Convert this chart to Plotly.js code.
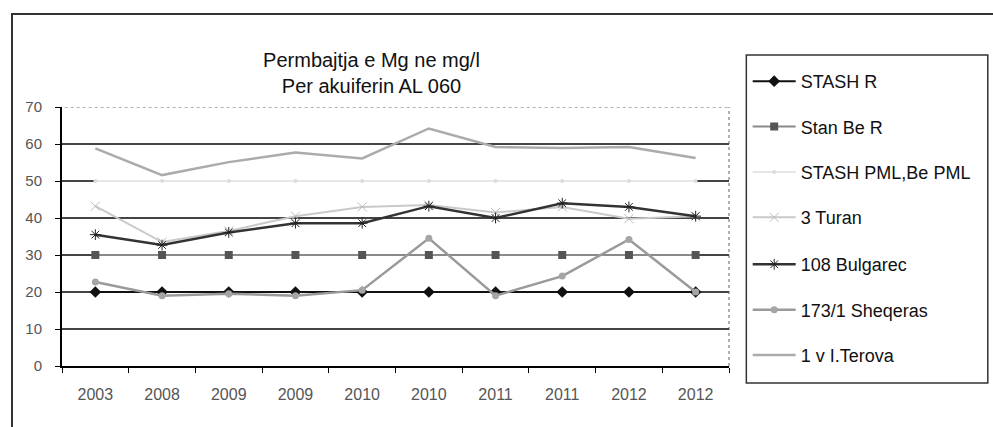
<!DOCTYPE html>
<html>
<head>
<meta charset="utf-8">
<script src="https://cdn.plot.ly/plotly-3.0.1.min.js"></script>
<style>
  body { margin: 0; background: #fff; }
  #chartDiv { width: 993px; height: 427px; position: relative; }
  #frame {
    position: absolute; left: 11px; top: 13px; width: 1000px; height: 430px;
    border-left: 2px solid #333; border-top: 2px solid #333; pointer-events: none;
  }
</style>
</head>
<body>
<div id="chartDiv"></div>
<div id="frame"></div>
<script>
  const years = ["2003", "2008", "2009", "2009", "2010", "2010", "2011", "2011", "2012", "2012"];
  const xIdx = [0, 1, 2, 3, 4, 5, 6, 7, 8, 9];

  const stashR = [20, 20, 20, 20, 20, 20, 20, 20, 20, 20];
  const stanBeR = [30, 30, 30, 30, 30, 30, 30, 30, 30, 30];
  const stashPml = [50, 50, 50, 50, 50, 50, 50, 50, 50, 50];
  const turan = [43.2, 33.5, 36.5, 40.5, 43, 43.5, 41.5, 43, 39.8, 40.5];
  const bulgarec = [35.5, 32.7, 36.1, 38.6, 38.6, 43.2, 40, 44, 43, 40.5];
  const sheqeras = [22.7, 19, 19.5, 19, 20.5, 34.5, 19, 24.3, 34.2, 20];
  const terova = [58.8, 51.6, 55.1, 57.7, 56.1, 64.2, 59.2, 58.9, 59.2, 56.2];

  const font = "Liberation Sans, Arial, sans-serif";

  // the legend is split in two borderless legends so all 7 rows fit at this spacing
  function series(name, y, lineColor, width, marker, legend) {
    const trace = {
      x: xIdx, y: y, name: name, legendgroup: name, legend: legend,
      type: "scatter",
      mode: marker ? "lines+markers" : "lines",
      line: { color: lineColor, width: width },
    };
    if (marker) trace.marker = marker;
    return trace;
  }

  const data = [
    series("STASH R", stashR, "#111", 2, { symbol: "diamond", size: 9, color: "#111" }, "legend"),
    series("Stan Be R", stanBeR, "#8a8a8a", 2, { symbol: "square", size: 8, color: "#555" }, "legend"),
    series("STASH PML,Be PML", stashPml, "#e6e6e6", 2, { symbol: "circle", size: 4, color: "#dcdcdc" }, "legend"),
    series("3 Turan", turan, "#c9c9c9", 2, { symbol: "x-thin", size: 9, line: { color: "#bbb", width: 1 } }, "legend"),
    series("108 Bulgarec", bulgarec, "#333", 2.5, { symbol: "asterisk", size: 9, line: { color: "#222", width: 1 } }, "legend2"),
    series("173/1 Sheqeras", sheqeras, "#9a9a9a", 2.5, { symbol: "circle", size: 7, color: "#a5a5a5" }, "legend2"),
    series("1 v I.Terova", terova, "#ababab", 2.5, null, "legend2"),
  ];

  const bounds = xIdx.map(i => i - 0.5).concat([xIdx.length - 0.5]);

  const legendStyle = {
    x: 1.028, xanchor: "left",
    yanchor: "top",
    traceorder: "grouped",
    tracegroupgap: 19,
    itemwidth: 43,
    font: { size: 18, family: font, color: "#111" },
    bgcolor: "rgba(0,0,0,0)",
    borderwidth: 0,
  };

  const layout = {
    width: 993,
    height: 427,
    margin: { l: 62, r: 264, t: 107, b: 61 },
    paper_bgcolor: "rgba(0,0,0,0)",
    plot_bgcolor: "#fff",
    font: { family: font, color: "#111" },
    title: {
      text: "Permbajtja e Mg ne mg/l<br>Per akuiferin AL 060",
      font: { size: 20, family: font, color: "#111" },
      x: 0.464, xref: "paper",
      y: 0.842, yref: "container", yanchor: "top",
    },
    showlegend: true,
    legend: Object.assign({}, legendStyle, { y: 1.17 }),
    legend2: Object.assign({}, legendStyle, { y: 0.463 }),
    xaxis: {
      range: [-0.5, 9.5],
      tickmode: "array",
      tickvals: xIdx,
      ticktext: years,
      ticks: "",
      ticklabelstandoff: 13,
      showgrid: false,
      zeroline: false,
      showline: true,
      linecolor: "#000",
      linewidth: 1.5,
      tickfont: { size: 16, color: "#555" },
      minor: { tickmode: "array", tickvals: bounds, ticks: "outside", ticklen: 5, tickcolor: "#000", showgrid: false },
      fixedrange: true,
    },
    yaxis: {
      range: [0, 70],
      tickmode: "linear",
      tick0: 0,
      dtick: 10,
      ticks: "outside",
      ticklen: 5,
      tickcolor: "#000",
      ticklabelstandoff: 10,
      showgrid: true,
      gridcolor: "#444",
      gridwidth: 1.5,
      zeroline: false,
      showline: true,
      linecolor: "#000",
      linewidth: 2,
      tickfont: { size: 15, color: "#555" },
      fixedrange: true,
    },
    shapes: [
      { type: "line", xref: "paper", yref: "y", x0: 0.004, x1: 1, y0: 70, y1: 70, layer: "between", line: { color: "#fff", width: 3 } },
      { type: "line", xref: "paper", yref: "y", x0: 0.004, x1: 1, y0: 70, y1: 70, layer: "between", line: { color: "#999", width: 1.5, dash: "dot" } },
      { type: "line", xref: "paper", yref: "y", x0: 1, x1: 1, y0: 0, y1: 70, layer: "between", line: { color: "#999", width: 1.5, dash: "dot" } },
      { type: "rect", xref: "paper", yref: "paper", x0: 1.026, x1: 1.388, y0: -0.066, y1: 1.201, line: { color: "#333", width: 1.5 } },
    ],
  };

  Plotly.newPlot("chartDiv", data, layout, { displayModeBar: false, staticPlot: true });
</script>
</body>
</html>
